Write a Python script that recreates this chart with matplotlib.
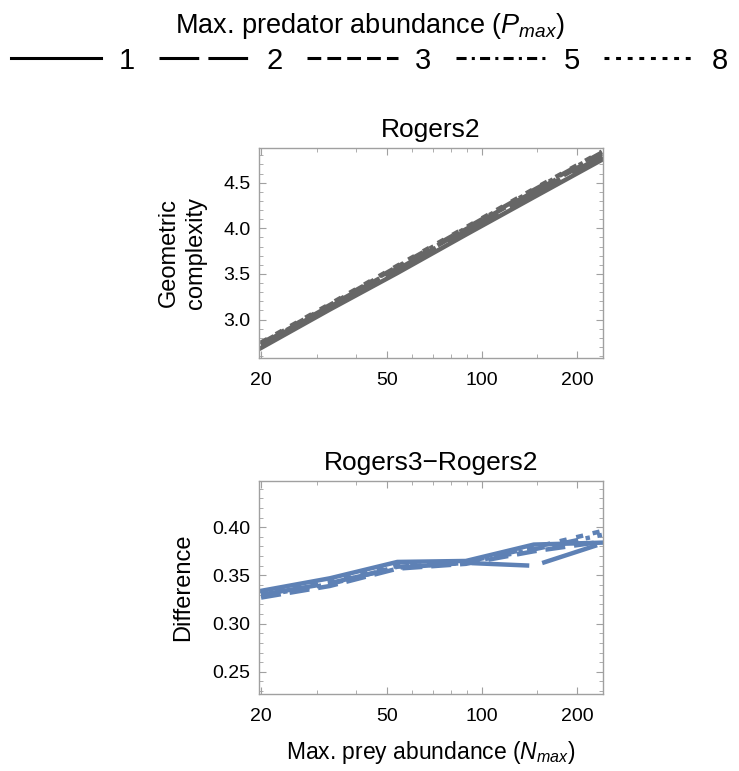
import numpy as np
import matplotlib
matplotlib.use("Agg")
import matplotlib.pyplot as plt
from matplotlib.lines import Line2D
from matplotlib.ticker import FixedLocator, NullFormatter, MultipleLocator

plt.rcParams['font.family'] = ['Liberation Sans', 'DejaVu Sans']
plt.rcParams['mathtext.fontset'] = 'custom'
plt.rcParams['mathtext.rm'] = 'Liberation Sans'
plt.rcParams['mathtext.it'] = 'Liberation Sans:italic'

# data
n_max = [20, 33, 54, 89, 146, 240]
p_max = ["1", "2", "3", "5", "8"]

rogers2 = {
    "1": [2.69, 3.11, 3.51, 3.93, 4.34, 4.75],
    "2": [2.72, 3.14, 3.55, 3.97, 4.38, 4.79],
    "3": [2.73, 3.15, 3.56, 3.99, 4.40, 4.81],
    "5": [2.74, 3.16, 3.58, 4.00, 4.42, 4.83],
    "8": [2.75, 3.17, 3.59, 4.01, 4.43, 4.84],
}
diff32 = {
    "1": [0.334, 0.347, 0.364, 0.365, 0.382, 0.384],
    "2": [0.330, 0.342, 0.358, 0.363, 0.360, 0.383],
    "3": [0.327, 0.339, 0.357, 0.362, 0.375, 0.385],
    "5": [0.329, 0.341, 0.359, 0.363, 0.377, 0.392],
    "8": [0.331, 0.343, 0.360, 0.364, 0.379, 0.396],
}

styles = {
    "1": "-",
    "2": (0, (13, 3)),
    "3": (0, (4.5, 2)),
    "5": (0, (3.3, 1.7, 1, 1.7)),
    "8": (0, (1.6, 2.2)),
}

gray = "#666666"
blue = "#5e81b5"
frame = "#a0a0a0"

fig = plt.figure(figsize=(7.39, 7.71), dpi=100)
ax1 = fig.add_axes([0.3505, 0.5357, 0.4655, 0.2724])
ax2 = fig.add_axes([0.3505, 0.0999, 0.4655, 0.2763])


def style_axis(ax):
    ax.set_xscale("log")
    ax.set_xlim(19.7, 242)
    ax.xaxis.set_major_locator(FixedLocator([20, 50, 100, 200]))
    ax.xaxis.set_minor_locator(FixedLocator([30, 40, 60, 70, 80, 90, 150]))
    ax.xaxis.set_minor_formatter(NullFormatter())
    ax.set_xticklabels(["20", "50", "100", "200"])
    for s in ax.spines.values():
        s.set_color(frame)
        s.set_linewidth(1.0)
    ax.tick_params(which="both", direction="in", top=True, right=True,
                   color=frame, labelsize=14)
    ax.tick_params(axis="x", pad=10)
    ax.tick_params(axis="y", pad=6)
    ax.tick_params(which="major", length=5)
    ax.tick_params(which="minor", length=3)


for p in p_max:
    ax1.plot(n_max, rogers2[p], color=gray, lw=3.2, linestyle=styles[p])
style_axis(ax1)
ax1.set_ylim(2.58, 4.88)
ax1.yaxis.set_major_locator(MultipleLocator(0.5))
ax1.yaxis.set_minor_locator(MultipleLocator(0.1))
ax1.yaxis.set_major_formatter(plt.FormatStrFormatter("%.1f"))
ax1.set_title("Rogers2", fontsize=19, pad=8)
ax1.set_ylabel("Geometric\ncomplexity", fontsize=17, labelpad=12, linespacing=1.3)

for p in p_max:
    ax2.plot(n_max, diff32[p], color=blue, lw=3.2, linestyle=styles[p])
style_axis(ax2)
ax2.set_ylim(0.227, 0.448)
ax2.yaxis.set_major_locator(MultipleLocator(0.05))
ax2.yaxis.set_minor_locator(MultipleLocator(0.01))
ax2.yaxis.set_major_formatter(plt.FormatStrFormatter("%.2f"))
ax2.set_title("Rogers3\u2212Rogers2", fontsize=19, pad=8)
ax2.set_ylabel("Difference", fontsize=17, labelpad=13)
ax2.set_xlabel("Max. prey abundance ($\\mathit{N}_{\\mathit{max}}$)", fontsize=16.5, labelpad=10)

handles = [Line2D([0], [0], color="black", lw=2.2, linestyle=styles[p]) for p in p_max]
leg = fig.legend(handles, p_max, loc="upper center", bbox_to_anchor=(0.5, 1.02),
                 ncol=5, frameon=False, fontsize=21, handlelength=3.1,
                 handletextpad=0.6, columnspacing=0.83, labelspacing=0.2,
                 title="Max. predator abundance ($\\mathit{P}_{\\mathit{max}}$)",
                 title_fontsize=19.5)

fig.savefig("out.png", dpi=100)
